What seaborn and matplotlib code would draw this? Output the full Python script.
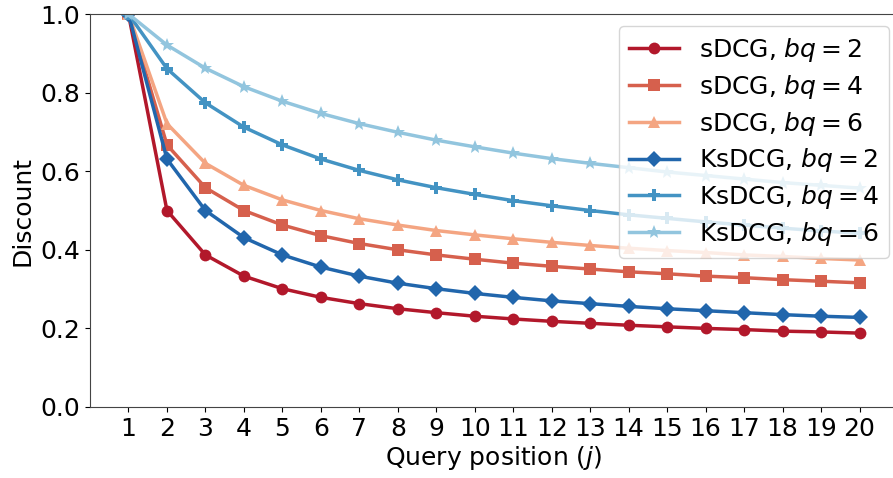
import matplotlib
matplotlib.use("Agg")
import matplotlib.pyplot as plt
import seaborn as sns
import pandas as pd

positions = list(range(1, 21))
sdcg_bq2 = [1.0, 0.500, 0.387, 0.333, 0.301, 0.279, 0.263, 0.250, 0.240, 0.231,
            0.224, 0.218, 0.213, 0.208, 0.204, 0.200, 0.197, 0.193, 0.191, 0.188]
sdcg_bq4 = [1.0, 0.667, 0.558, 0.500, 0.463, 0.436, 0.416, 0.400, 0.387, 0.376,
            0.366, 0.358, 0.351, 0.344, 0.339, 0.333, 0.329, 0.324, 0.320, 0.316]
sdcg_bq6 = [1.0, 0.721, 0.620, 0.564, 0.527, 0.500, 0.479, 0.463, 0.449, 0.438,
            0.428, 0.419, 0.411, 0.404, 0.398, 0.393, 0.387, 0.383, 0.378, 0.374]
ksdcg_bq2 = [1.0, 0.631, 0.500, 0.431, 0.387, 0.356, 0.333, 0.315, 0.301, 0.289,
             0.279, 0.270, 0.263, 0.256, 0.250, 0.245, 0.240, 0.235, 0.231, 0.228]
ksdcg_bq4 = [1.0, 0.861, 0.774, 0.712, 0.667, 0.631, 0.602, 0.578, 0.558, 0.541,
             0.525, 0.512, 0.500, 0.489, 0.480, 0.471, 0.463, 0.455, 0.448, 0.442]
ksdcg_bq6 = [1.0, 0.921, 0.862, 0.815, 0.778, 0.747, 0.721, 0.699, 0.679, 0.662,
             0.646, 0.632, 0.620, 0.609, 0.598, 0.589, 0.580, 0.571, 0.564, 0.557]

labels = [r"sDCG, $bq=2$", r"sDCG, $bq=4$", r"sDCG, $bq=6$",
          r"KsDCG, $bq=2$", r"KsDCG, $bq=4$", r"KsDCG, $bq=6$"]
series = [sdcg_bq2, sdcg_bq4, sdcg_bq6, ksdcg_bq2, ksdcg_bq4, ksdcg_bq6]
colors = ["#b2182b", "#d6604d", "#f4a582", "#2166ac", "#4393c3", "#92c5de"]
markers = ["o", "s", "^", "D", "P", "*"]

rows = []
for lab, vals in zip(labels, series):
    for p, v in zip(positions, vals):
        rows.append({"pos": p, "val": v, "series": lab})
df = pd.DataFrame(rows)

FS = 18
plt.rcParams["font.size"] = FS
fig = plt.figure(figsize=(8.93, 4.78), dpi=100)
ax = fig.add_axes([90 / 893, 71 / 478, 808 / 893, 393 / 478])

for lab, col, mk in zip(labels, colors, markers):
    sub = df[df["series"] == lab]
    sns.lineplot(data=sub, x="pos", y="val", ax=ax, color=col, marker=mk,
                 markersize=8.5 if mk != "*" else 10, markeredgewidth=0,
                 linewidth=2.5, label=lab)

ax.set_xlim(0, 21)
ax.set_ylim(0, 1.0)
ax.set_xticks(positions)
ax.set_yticks([0.0, 0.2, 0.4, 0.6, 0.8, 1.0])
ax.set_xlabel(r"Query position ($j$)", fontsize=FS, labelpad=2)
ax.set_ylabel("Discount", fontsize=FS)
ax.tick_params(labelsize=FS)
ax.spines["right"].set_visible(False)
for s in ["left", "bottom", "top"]:
    ax.spines[s].set_color("#444444")
ax.legend(loc="upper right", bbox_to_anchor=(889 / 893, 1 - 26 / 478),
          bbox_transform=fig.transFigure, fontsize=FS, framealpha=0.8,
          borderaxespad=0, handlelength=2.0, labelspacing=0.35)

fig.savefig("out.png", dpi=100)
